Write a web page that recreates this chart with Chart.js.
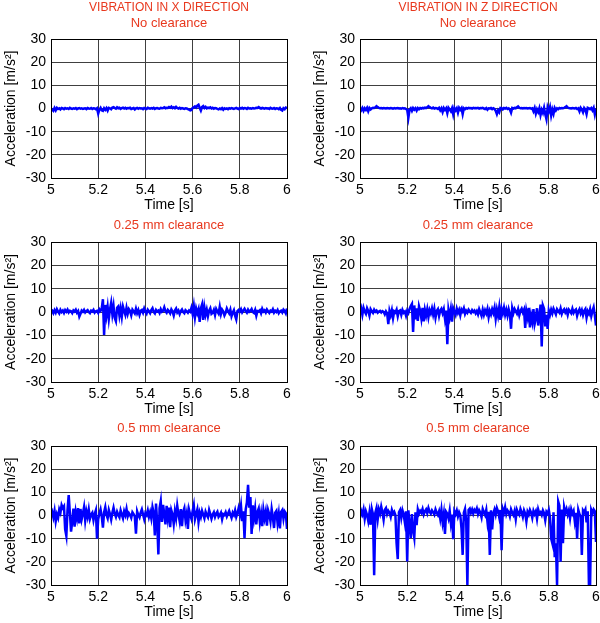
<!DOCTYPE html>
<html>
<head>
<meta charset="utf-8">
<script src="https://cdn.jsdelivr.net/npm/chart.js@4.4.1/dist/chart.umd.min.js"></script>
<style>
  html, body { margin: 0; padding: 0; background: #fff; overflow: hidden; }
  #page { position: relative; width: 600px; height: 623px; }
  .panel { position: absolute; }
</style>
</head>
<body>
<div id="page"></div>
<script>
// sampling grid of the recordings (seconds)
const T_START = 5;
const T_STEP = 0.005;

const xTickLabels = ['5', '5.2', '5.4', '5.6', '5.8', '6'];
const yTickValues = [-30, -20, -10, 0, 10, 20, 30];

// X direction, no clearance
const accXNone = [
  0, -0.5, -1, 0.2, -0.8, 0.3, -0.2, 0.1, -0.4, 0.2,
  0, -0.3, 0.2, -0.1, 0.1, -0.2, 0.3, 0, -0.2, 0.1,
  -0.1, 0.2, -0.3, 0, 0.2, -0.1, 0.1, -0.2, 0, 0.1,
  -0.3, 0.2, 0, -0.1, 0.2, -0.2, 0.1, 0, -0.3, 0.1,
  -2.2, -0.5, 0.3, -0.8, -1, 0.1, -0.6, 0.2, -0.9, 0.3,
  0.1, -0.3, 0.4, 0.6, 0.2, -0.1, 0.5, 0.1, 0.3, -0.2,
  0.2, 0.4, 0, 0.3, -0.1, 0.2, 0.1, 0.3, -0.2, 0,
  0.2, -0.4, 0.1, 0.3, -0.1, 0.2, 0, 0.1, -0.3, 0.2,
  0, -0.2, 0.3, 0.1, -0.1, 0.2, 0, 0.3, -0.2, 0.1,
  0.2, 0, -0.1, 0.3, 0.1, 0.2, 0.5, 0.1, 0.3, 0.2,
  0.6, 0.3, 0.8, 0.2, 0.5, 0.1, 0.7, 0.2, 0, 0.3,
  -0.1, 0.2, 0, -0.2, 0.1, 0, -0.3, -0.5, -0.8, -0.6,
  0.2, 0.5, 0.9, 0.4, 1.2, 1.6, 0.3, -0.9, 0.6, 1,
  0.2, 0.7, 0.1, 0.4, 0.2, 0.5, 0, 0.3, -0.1, 0.2,
  0.1, -0.2, -0.4, 0, -0.3, 0.2, -0.5, 0.1, -0.2, 0,
  -0.3, 0.1, -0.1, 0.2, 0, -0.2, 0.1, 0.3, 0, -0.2,
  0.2, 0, 0.3, -0.1, 0.2, 0.1, -0.2, 0.3, 0, 0.1,
  -0.1, 0.2, 0, 0.1, 0.3, 0.2, 0.6, 0.2, 0, 0.3,
  0.1, -0.1, 0.2, 0, 0.1, -0.2, 0.3, 0, -0.1, 0.2,
  -0.2, 0.1, 0, -0.3, 0.2, -0.6, -0.9, 0.1, -0.3, 0.4,
  0.2
];

// Z direction, no clearance
const accZNone = [
  0, -0.8, 0.2, -1, 0.1, -0.6, 0.3, -1.2, 0.2, -0.4,
  0.1, 0.3, 0.2, 0.5, 1, 0.6, 0.3, 0.1, 0.2, 0,
  0.2, 0.1, 0, 0.2, 0.1, 0, 0.2, 0.1, -0.1, 0.2,
  0, 0.1, 0.2, 0, 0.1, -0.1, 0.2, 0, 0.1, -0.2,
  -0.6, -4, -0.5, 0.1, -1, 0.2, -0.5, 0.1, -0.9, 0.2,
  -0.3, 0.2, 0, 0.3, 0.1, 0.4, 0.2, 0.5, 1, 0.6,
  0.3, 0.1, 0.4, 0, 0.2, 0.1, -0.2, 0.3, -0.8, 0.1,
  -1.5, 0.2, -0.6, 0.1, -2, 0.3, -0.4, -1.2, 0.1, -2.5,
  0.2, -0.8, 0.1, -1.8, 0.3, -0.5, 0.2, -2.4, 0.1, -0.3,
  0.2, 0, 0.3, 0.1, 0.2, 0, 0.3, 0.1, 0.2, 0.1,
  0.3, 0, 0.2, 0.1, 0.3, 0, -0.2, 0.2, -0.5, 0.1,
  0, 0.2, -0.3, 0.1, -0.2, -1, -2.4, -0.8, -1.6, 0.2,
  0.1, -0.4, 0.2, 0, 0.3, -0.2, 0.1, -0.5, -1.8, 0.2,
  0, 0.3, 0.1, 0.5, 0.9, 0.3, 0.1, 0.2, 0, 0.2,
  0.1, 0.2, 0, 0.1, 0.2, -0.1, 0.1, -1.2, 0.2, -2.2,
  -0.4, -1.5, 0.1, -2.8, -0.6, -1.9, 0.3, -2.5, -4.6, 0.4,
  -1.2, 0.6, -3, -0.5, -2.3, 0.2, -0.8, 0.1, -0.3, 0.2,
  0, 0.2, 0.1, 0.3, 0.6, 1, 0.4, 0.2, 0.1, 0,
  0.2, 0.1, 0, 0.2, -0.2, 0.1, -1.2, 0.3, -0.4, -1.6,
  0.2, -0.5, -2.4, 0.3, 0.1, -0.3, 0.2, -0.8, 0.3, -2.5,
  0
];

// X direction, 0.25 mm clearance
const accX025 = [
  0, 0.5, -0.5, 0.8, -0.3, 1.2, 0.2, -0.6, 0.9, 0,
  0.6, -0.4, 0.8, 0.1, 1, -0.2, 0.5, 0.3, -0.5, 0.7,
  0.2, 1, -0.3, 0.4, -2, -0.8, 0.6, 0.1, 0.9, -0.2,
  0.4, 0.8, 0, -0.5, 0.6, 0.2, 0.9, -0.3, 0.3, 0.5,
  -0.4, 1.2, 0.5, 1.5, 5.5, -9.8, 3, -1.5, 2.2, -3,
  1.2, 4, -1, 2.5, -2.6, -4, 1.8, 2.4, -1.5, 1.6,
  -2, 2.3, 0.5, -1.2, 1.8, -0.8, 1.2, 0.4, -1.4, 1,
  0.2, -0.6, 1.4, -0.5, 0.8, -1.2, 0.5, 0.9, -0.3, 1.5,
  0.2, -0.7, 1, 0.3, -0.5, 0.8, 1.6, 0, -0.6, 0.9,
  0.2, 0.6, -0.4, 1.2, 0.1, 0.5, 2, 0.4, -0.3, 0.9,
  0.3, -0.6, 1.1, 0.2, -1.5, 0.7, 1.5, -0.2, 0.6, -0.9,
  0.4, 1.1, 0, -0.5, 0.8, 0.3, -0.3, 0.6, 0.1, 1.8,
  -0.8, 2.6, -2.2, 1.5, -0.5, 1.2, -4.2, 1.5, 3.2, -3.4,
  2, -1.2, 1, -1.8, 0.6, 1.6, -0.8, -0.3, 0.9, -1.3,
  1.3, 0.2, -0.7, 2.2, -0.9, 1, 0.2, -1.5, -0.4, 1.5,
  0.3, -0.6, 1, -1.8, -0.3, 0.8, -1.6, -3.2, 0.4, 0.9,
  0.2, 1.2, -0.2, 0.6, 1.4, 0.4, -0.3, 1, 0.1, 0.5,
  1.3, 0, -0.4, 0.9, -1.6, 0.4, 0.3, 0.8, -0.5, 1.4,
  0.2, 0.7, -0.2, 1.1, 0.3, -0.4, 0.6, 0.2, 1.2, -0.3,
  0.5, 0, 0.9, -0.5, 0.3, 0.6, -0.2, 1, 0.4, -0.6,
  1.5
];

// Z direction, 0.25 mm clearance
const accZ025 = [
  -0.5, 1.5, -1.2, 1.8, 0.2, -0.8, 1.6, 0.4, -1.5, 1.2,
  0.3, -0.4, 1, 0.1, 0.6, -0.3, 0.2, 0.5, -0.2, 0.4,
  0.1, -1, 0.3, -0.6, -5.2, 0.5, -1.4, 0.8, -2.6, 0.3,
  -0.2, 1, -1.8, 0.4, 0.7, -1.2, 0.9, -0.3, 0.2, -1.6,
  0.6, -0.4, 1.3, 2.5, 3.4, -8.6, 2.8, -3.2, 1.6, -3.8,
  2.4, 0.5, -2.8, 1.8, -4, 0.9, -1.5, 1.2, -2.2, 0.8,
  -0.6, 1.5, -1.1, 1.4, -2.4, 0.4, 1.2, -1.7, 0.6, 1.4,
  -0.5, 1.2, -2.8, 0.6, -13.8, 0.8, -2.2, 1.2, -4.1, 1.6,
  0.2, -1.2, 1.4, -0.4, 0.9, -1.4, 1.1, 0.2, 1.6, -0.8,
  0.5, -0.3, 1, 0.2, -0.4, 0.8, 0, 0.6, -0.6, 0.4,
  -1, 1.2, -0.2, -1.6, 1, -1.2, 0.7, -0.6, 1.3, -2.2,
  0.5, -1, 1.2, -0.4, 1.8, -2.8, 1, -1.6, 2, -3.4,
  1.4, -0.6, 1.8, -1.2, 0.9, -1.5, 1.2, -0.8, -7.2, 1.6,
  -0.5, 1.3, 0.3, -0.7, 1.2, -1.4, 0.5, 1.4, -0.2, 1,
  -6.8, 0.4, -2.2, 1.8, -6.6, -1.5, -4.2, 1.2, -5.2, -2.8,
  1.6, -5.8, -1.8, 3.2, -14.8, 2.8, 1.4, -6.2, -1.2, -7.2,
  0.6, -1.2, 1, -0.6, 1.4, 0.2, -1, 1.2, 0.4, -0.3,
  1.5, -0.8, 0.6, 1.2, -0.2, 0.8, -1.2, 1, 0.3, -0.5,
  1.4, -0.4, 0.6, 1.1, -1.6, 0.2, 1.2, -0.6, 0.8, -1.3,
  0.5, 1.3, -2.4, 0.3, -0.8, 1.2, -1.8, 0.4, 2, -1.4,
  -5.8
];

// X direction, 0.5 mm clearance
const accX05 = [
  0, 1.5, -0.8, 2, -2.5, 0.5, -1, 2.6, 1.2, 4.5,
  3.2, 4, -6, -8.8, 2.4, 8.8, 1.2, -7, -2.6, 3,
  -4.8, 1.6, -1.2, 3.2, -3.4, 2.8, -1.6, 0.8, 3.6, -2.2,
  1.8, -0.6, 2.6, -1.4, 0.4, 1.2, -2, 0.6, 2.2, -10,
  -1.6, 0.8, 2.6, -0.4, -5.2, 1.4, 3.6, 0.2, -1.2, 2.4,
  0.6, -1.8, 1.2, 3.4, 0.8, -0.6, 1.6, 0.2, -0.8, 2.2,
  0.4, -1.2, 1.8, 0.2, 2.8, -0.4, 1, 0.2, -1, 1.4,
  0.6, -0.4, -7.8, 1.8, 0.2, -0.8, 1.2, 2.6, 0.4, -1.6,
  1, 0.2, 2.2, -0.6, 1.4, -1.2, 3.6, 1.2, -8.6, 5.2,
  -3, -16.8, 3.2, 6.2, -2.8, 4.6, 0.6, -3.8, 4.2, -1,
  3.4, -5, 2.2, 0.4, -3.6, 1.8, -1.2, 4.2, 0.6, -2.4,
  2.8, -4.6, 1.6, 3.2, -2, 0.8, -5.8, 2.4, 0.2, -1.4,
  1.8, 4.4, -1.6, 0.6, 2.6, -2.8, 1.2, -0.6, 2, 0.4,
  -1.2, 1.6, 0.2, -0.8, 2.4, 0.6, -1.4, 0.4, 1.4, -0.6,
  0.8, 1.6, -0.6, 0.2, 1.2, -1.6, 0.6, 0.2, 1.4, -0.4,
  0.8, 2, 0.4, -1, 1.2, 0.2, 2.2, -0.6, 1, 3.2,
  0.6, 4.2, -2.4, 1.8, -9.8, 2.6, 5.6, 13.2, 3.4, 8,
  -8, 4.4, -1.2, 2.8, -3.8, 1.6, 3, -2.8, 0.8, -4.6,
  2.4, -1.2, 1.6, -4.4, 2.2, 0.4, -2.6, 2.8, -0.6, -5.4,
  1.2, 2, -3.2, 0.6, -5.6, 1.6, 2.4, -1.4, 1.8, 1,
  -5.8
];

// Z direction, 0.5 mm clearance
const accZ05 = [
  -1, 2, 0.5, 2.6, -1.4, 1.8, 0.2, -2.4, 1.2, -4,
  2.8, 0.6, -25.8, 1.2, 3.2, -1.6, 2.6, 0.8, 3.8, 1.4,
  -1.8, 2.4, 3.2, 0.6, 2, 1.2, -0.6, 2.4, 0.8, 1.6,
  0.2, -12, -18.8, 1.4, 2.4, -1, 2.2, 0.4, -3, 1.8,
  -19.8, 2.2, -3.6, -9.8, 0.6, -6.4, -9.6, 1.4, -4.2, 2.6,
  0.8, 2, 1.2, 2.8, 0.4, 1.8, 2.6, 1, 3.2, 1.6,
  0.8, 2.2, 1.4, 0.4, 2.6, 1.2, 0.2, 1.8, -1.4, 2.4,
  -2.8, 0.6, -8, 1.6, 0.8, -1.2, 2, -3.2, 0.4, -10.2,
  1.8, 0.6, 2.2, -0.4, 1.4, 0.2, -5.6, -17, 1.2, 2.8,
  -2.4, -30, 2.4, 3, 1.2, 2.6, 0.8, 2.4, 1.6, 3,
  0.6, 2.2, 1.2, -0.8, 2.8, 1.4, 0.2, 2.4, -2.6, 1.6,
  -17, 2.2, -6, 1, 2.6, 0.4, 3.2, 1.8, -0.8, 2.4,
  -15, 2.8, 1.2, 3.6, 0.6, 2.2, 1.4, -0.4, 2.6, 1.2,
  0.2, 2, -1.6, 2.4, 1, 0.2, 2.8, 1.4, -0.6, 2.2,
  0.8, -2.6, 1.6, 0.4, 2.4, 1.2, -1, 2, 0.6, 1.8,
  -1.4, 2.6, 0.8, 1.4, 0.2, 2.2, 1, -2, 1.6, 0.8,
  2.4, -0.8, -10, -12, 1.4, -18, -12, -30, 6, 4.2,
  -20, 2.6, -12, 3.6, 1.2, 2.8, 0.4, 2.2, -1.2, 2.6,
  0.8, 2, -2.4, 1.2, -10, 2.4, 0.6, -0.4, -17, 2.2,
  1.4, 2.6, -3, 1.8, -30, -30, 2.4, 1, 2.6, 1.8,
  -11.4
];

const FONT = '"Liberation Sans", Arial, Helvetica, sans-serif';
const RED = '#e8381e';

// outline the plot box in black, like the original axes
const framePlugin = {
  id: 'frame',
  afterDraw(chart) {
    const { ctx, chartArea: a } = chart;
    ctx.save();
    ctx.strokeStyle = '#000';
    ctx.lineWidth = 1;
    ctx.strokeRect(Math.round(a.left) + 0.5, Math.round(a.top) + 0.5,
      Math.round(a.right - a.left), Math.round(a.bottom - a.top));
    ctx.restore();
  },
};

function toPoints(values) {
  return values.map((v, i) => ({ x: T_START + i * T_STEP, y: v }));
}

function makePanel(opts) {
  const div = document.createElement('div');
  div.className = 'panel';
  div.style.left = opts.left + 'px';
  div.style.top = opts.top + 'px';
  div.style.width = '291px';
  div.style.height = opts.height + 'px';
  const canvas = document.createElement('canvas');
  div.appendChild(canvas);
  document.getElementById('page').appendChild(div);

  new Chart(canvas, {
    type: 'line',
    data: {
      datasets: [{
        data: toPoints(opts.values),
        borderColor: '#0000ff',
        borderWidth: 2.5,
        pointRadius: 0,
        tension: 0,
        fill: false,
      }],
    },
    options: {
      responsive: true,
      maintainAspectRatio: false,
      animation: false,
      events: [],
      layout: { padding: { left: 0, right: 4, top: 0, bottom: 0 } },
      plugins: {
        legend: { display: false },
        tooltip: { enabled: false },
        title: {
          display: true,
          fullSize: false,
          text: opts.title,
          color: RED,
          font: { family: FONT, size: opts.titleSize, weight: 'normal', lineHeight: 1.2 },
          padding: { top: 0, bottom: opts.titlePadBottom },
        },
        subtitle: {
          display: !!opts.subtitle,
          fullSize: false,
          text: opts.subtitle || '',
          color: RED,
          font: { family: FONT, size: 13, weight: 'normal', lineHeight: 1.2 },
          padding: { top: 1, bottom: 8 },
        },
      },
      scales: {
        x: {
          type: 'linear',
          min: 5,
          max: 6,
          afterBuildTicks: (scale) => {
            scale.ticks = xTickLabels.map((l) => ({ value: parseFloat(l) }));
          },
          ticks: {
            color: '#000',
            padding: 3.5,
            maxRotation: 0,
            font: { family: FONT, size: 14 },
            callback: (v) => String(+v.toFixed(1)),
          },
          grid: { color: '#404040', lineWidth: 1, drawTicks: false },
          border: { color: '#000' },
          title: {
            display: true,
            text: 'Time [s]',
            color: '#000',
            font: { family: FONT, size: 14, lineHeight: 1.2 },
            padding: { top: 0, bottom: 0 },
          },
          afterFit: (scale) => {
            scale.height = 36;
            scale.paddingLeft = 0;
            scale.paddingRight = 0;
          },
        },
        y: {
          min: -30,
          max: 30,
          afterBuildTicks: (scale) => {
            scale.ticks = yTickValues.map((v) => ({ value: v }));
          },
          ticks: {
            color: '#000',
            padding: 5,
            font: { family: FONT, size: 14 },
          },
          grid: { color: '#404040', lineWidth: 1, drawTicks: false },
          border: { color: '#000' },
          title: {
            display: true,
            text: 'Acceleration [m/s²]',
            color: '#000',
            font: { family: FONT, size: 14, lineHeight: 1.2 },
            padding: { top: 2.5, bottom: 0 },
          },
          afterFit: (scale) => {
            scale.width = 51;
            scale.paddingTop = 0;
            scale.paddingBottom = 0;
          },
        },
      },
    },
    plugins: [framePlugin],
  });
}

// row 1
makePanel({ left: 0, top: 0, height: 214, values: accXNone,
  title: 'VIBRATION IN X DIRECTION', titleSize: 12, titlePadBottom: 0, subtitle: 'No clearance' });
makePanel({ left: 309, top: 0, height: 214, values: accZNone,
  title: 'VIBRATION IN Z DIRECTION', titleSize: 12, titlePadBottom: 0, subtitle: 'No clearance' });
// row 2
makePanel({ left: 0, top: 218, height: 200, values: accX025,
  title: '0.25 mm clearance', titleSize: 13, titlePadBottom: 8.4 });
makePanel({ left: 309, top: 218, height: 200, values: accZ025,
  title: '0.25 mm clearance', titleSize: 13, titlePadBottom: 8.4 });
// row 3
makePanel({ left: 0, top: 421, height: 200, values: accX05,
  title: '0.5 mm clearance', titleSize: 13, titlePadBottom: 9.4 });
makePanel({ left: 309, top: 421, height: 200, values: accZ05,
  title: '0.5 mm clearance', titleSize: 13, titlePadBottom: 9.4 });
</script>
</body>
</html>
